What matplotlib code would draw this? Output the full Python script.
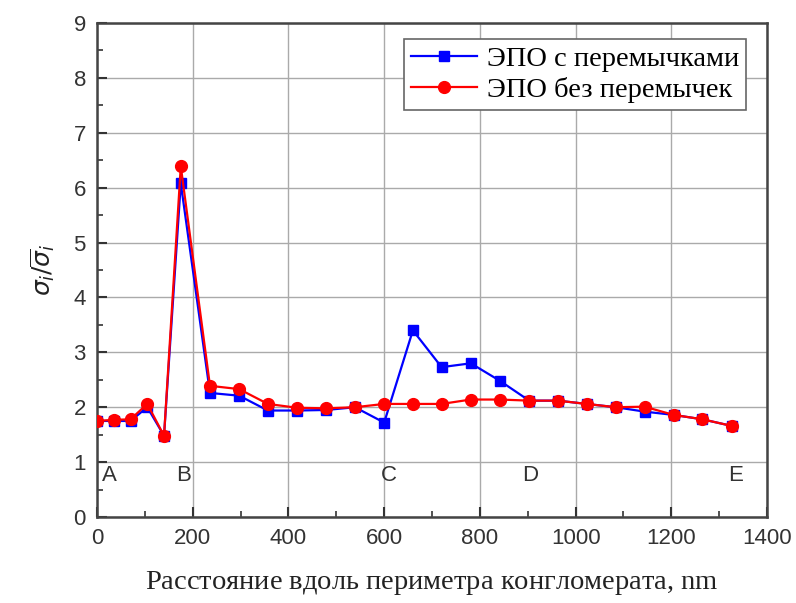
import matplotlib
matplotlib.use("Agg")
import matplotlib.pyplot as plt
from matplotlib.ticker import MultipleLocator

# distance along the perimeter, nm
x = [0, 35, 70, 105, 140, 175, 236, 297, 357, 418, 479, 539, 600,
     660, 720, 781, 842, 903, 963, 1023, 1084, 1144, 1205, 1265, 1326]
# ЭПО с перемычками
blue = [1.75, 1.75, 1.75, 2.00, 1.48, 6.08, 2.26, 2.21, 1.94, 1.94, 1.95, 2.00, 1.72,
        3.40, 2.73, 2.80, 2.48, 2.12, 2.12, 2.06, 2.00, 1.92, 1.86, 1.78, 1.66]
# ЭПО без перемычек
red = [1.75, 1.77, 1.78, 2.06, 1.48, 6.39, 2.39, 2.33, 2.06, 1.99, 1.98, 2.00, 2.06,
       2.06, 2.06, 2.14, 2.14, 2.12, 2.12, 2.06, 2.00, 2.01, 1.86, 1.78, 1.66]
point_labels = ["A", "B", "C", "D", "E"]
point_x = [25, 180, 610, 905, 1335]

plt.rcParams["mathtext.fontset"] = "dejavusans"

fig = plt.figure(figsize=(7.96, 6.03), dpi=100)
ax = fig.add_axes([0.1219, 0.1426, 0.8417, 0.8193])

ax.plot(x, blue, color="#0000ff", marker="s", markersize=7.5, lw=1.6,
        label="ЭПО с перемычками", zorder=3)
ax.plot(x, red, color="#ff0000", marker="o", markersize=8.5, lw=1.6,
        label="ЭПО без перемычек", zorder=4)

for lab, px in zip(point_labels, point_x):
    ax.text(px, 0.75, lab, ha="center", va="center", fontsize=16,
            family="Liberation Sans", color="#333333")

ax.set_xlim(0, 1400)
ax.set_ylim(0, 9)
ax.xaxis.set_major_locator(MultipleLocator(200))
ax.xaxis.set_minor_locator(MultipleLocator(100))
ax.yaxis.set_major_locator(MultipleLocator(1))
ax.yaxis.set_minor_locator(MultipleLocator(0.5))
ax.tick_params(which="major", direction="in", length=7, width=1.5,
               labelsize=16, colors="#333333", pad=8)
ax.tick_params(which="minor", direction="in", length=4, width=1.2, colors="#333333")
for lbl in ax.get_xticklabels() + ax.get_yticklabels():
    lbl.set_family("Liberation Sans")
ax.grid(True, which="major", color="#aaaaaa", lw=1)
for sp in ax.spines.values():
    sp.set_linewidth(1.8)
    sp.set_color("#444444")

ax.set_xlabel("Расстояние вдоль периметра конгломерата, $\\mathregular{nm}$",
              family="Liberation Serif", fontsize=20.5, labelpad=14, color="#222222")
ax.set_ylabel(r"$\sigma_i/\overline{\sigma}_i$", fontsize=18, labelpad=12, color="#222222")

leg = ax.legend(loc="upper right", bbox_to_anchor=(0.969, 0.967),
                prop={"family": "Liberation Serif", "size": 20.5},
                fancybox=False, framealpha=1, edgecolor="#666666",
                borderpad=0.25, labelspacing=0.15, handlelength=2.3, handletextpad=0.35,
                borderaxespad=0)
leg.get_frame().set_linewidth(1.2)

fig.savefig("out.png", dpi=100)
